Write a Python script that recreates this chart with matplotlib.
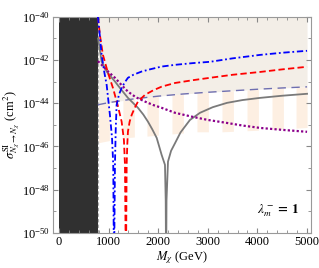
import matplotlib

matplotlib.use("Agg")
import matplotlib.pyplot as plt
import numpy as np
from matplotlib.ticker import FixedLocator, MultipleLocator, NullFormatter

plt.rcParams["font.family"] = ["Liberation Serif", "DejaVu Serif"]
plt.rcParams["mathtext.fontset"] = "stix"

# --- data (M in GeV, log10 sigma in cm^2) ---
blue_m = [786, 830, 861, 910, 962, 1028, 1070, 1095, 1110, 1129, 1145, 1163, 1210, 1264, 1330, 1391, 1500, 1667, 1850, 2070, 2339, 2700, 3044, 3500, 4052, 4500, 5000]
blue_l = [-40.0, -41.0, -41.76, -42.5, -43.15, -44.54, -45.6, -46.85, -52.0, -46.85, -45.2, -44.07, -43.6, -43.29, -43.02, -42.82, -42.68, -42.53, -42.42, -42.30, -42.22, -42.14, -42.08, -41.92, -41.76, -41.66, -41.57]

red_m = [786, 830, 887, 990, 1089, 1180, 1264, 1310, 1331, 1350, 1365, 1378, 1391, 1425, 1466, 1530, 1593, 1734, 1900, 2070, 2339, 2700, 3044, 3500, 4052, 4500, 5000]
red_l = [-40.0, -40.9, -41.76, -42.6, -43.29, -44.05, -44.85, -45.7, -46.85, -52.0, -46.85, -45.9, -45.31, -44.85, -44.54, -44.2, -43.92, -43.61, -43.40, -43.23, -43.06, -42.93, -42.82, -42.68, -42.55, -42.43, -42.31]

gray_m = [790, 861, 968, 1129, 1250, 1391, 1593, 1700, 1794, 1880, 1970, 2070, 2137, 2152, 2160, 2168, 2198, 2260, 2339, 2450, 2641, 2843, 3100, 3387, 3700, 4052, 4500, 5000]
gray_l = [-41.0, -42.07, -42.55, -42.99, -43.35, -43.75, -44.21, -44.52, -44.85, -45.2, -45.60, -46.39, -46.85, -48.5, -52.0, -48.5, -46.7, -46.2, -45.85, -45.35, -44.77, -44.44, -44.18, -43.98, -43.85, -43.75, -43.65, -43.56]

purple_m = [786, 861, 1000, 1129, 1260, 1391, 1550, 1734, 1900, 2070, 2339, 2701, 3000, 3387, 3700, 4052, 4500, 5000]
purple_l = [-42.05, -42.22, -42.55, -42.82, -43.15, -43.46, -43.72, -43.92, -44.08, -44.21, -44.44, -44.63, -44.77, -44.91, -45.03, -45.14, -45.23, -45.32]

limit_m = [786, 1000, 1500, 2000, 2500, 3000, 3500, 4000, 4500, 5000]
limit_l = [-44.07, -43.97, -43.80, -43.67, -43.57, -43.49, -43.42, -43.35, -43.29, -43.24]

floor_m = [786, 1290, 1774, 2278, 2782, 3286, 3790, 4294, 5000]
floor_l = [-45.83, -45.60, -45.52, -45.42, -45.32, -45.32, -45.27, -45.22, -45.12]

bar_starts = [786, 1290, 1774, 2278, 2782, 3286, 3790, 4294, 4778]
bar_width = 230

excluded_max = 786


def main():
    fig = plt.figure(figsize=(3.19, 2.68), dpi=100)
    ax = fig.add_axes([0.166, 0.131, 0.809, 0.806])

    # excluded low-mass region
    ax.axvspan(0, excluded_max, color="#303030", lw=0, zorder=1)
    ax.axvline(excluded_max, color="#aaaaaa", ls=(0, (3, 2)), lw=0.8, zorder=2)

    # excluded region above the limit
    xs = np.linspace(excluded_max, 5000, 200)
    top = 10 ** np.interp(xs, limit_m, limit_l)
    ax.fill_between(xs, top, 1e-40, color="#f3eee7", lw=0, zorder=1)

    # striped projected region
    for s in bar_starts:
        xb = np.linspace(s, min(s + bar_width, 5000), 20)
        ax.fill_between(
            xb,
            10 ** np.interp(xb, floor_m, floor_l),
            10 ** np.interp(xb, limit_m, limit_l),
            color="#fdefe2", lw=0, zorder=1,
        )

    ax.plot(limit_m, 10 ** np.array(limit_l), color="#6f6fb0", lw=1.0,
            ls=(0, (6, 4)), zorder=3)
    ax.plot(gray_m, 10 ** np.array(gray_l), color="#7a7a7a", lw=1.3, zorder=4)
    ax.plot(purple_m, 10 ** np.array(purple_l), color="#8b008b", lw=1.6,
            ls=(0, (1, 1)), zorder=4)
    ax.plot(red_m, 10 ** np.array(red_l), color="#ff0000", lw=1.3,
            ls=(0, (3.5, 1.8)), zorder=5)
    ax.plot(blue_m, 10 ** np.array(blue_l), color="#0000ff", lw=1.3,
            ls=(0, (3.5, 1.5, 1, 1.5)), zorder=6)

    ax.set_yscale("log")
    ax.set_xlim(-120, 5080)
    ax.set_ylim(1e-50, 1e-40)

    ax.xaxis.set_major_locator(MultipleLocator(1000))
    ax.xaxis.set_minor_locator(MultipleLocator(200))
    ax.yaxis.set_major_locator(FixedLocator([10.0 ** k for k in range(-50, -39, 2)]))
    ax.yaxis.set_minor_locator(FixedLocator([10.0 ** k for k in range(-49, -40, 2)]))
    ax.yaxis.set_minor_formatter(NullFormatter())
    ax.tick_params(which="both", direction="in", top=True, right=True,
                   color="#888888", labelsize=9, pad=2)
    ax.tick_params(which="major", length=3.5)
    ax.tick_params(which="minor", length=2)
    for sp in ax.spines.values():
        sp.set_color("#999999")
        sp.set_linewidth(0.8)

    ax.set_xlabel(r"$M_\chi$ (GeV)", fontsize=9, labelpad=1)
    ax.set_ylabel(r"$\sigma^{\rm SI}_{N_\chi \to N_\chi}$ (cm$^2$)", fontsize=9, labelpad=0)
    ax.text(3990, 10 ** -48.95, r"$\lambda_m^-\,\mathbf{=\,1}$", fontsize=9.5,
            va="center", ha="left")

    fig.savefig("out.png", dpi=100)
    plt.close(fig)


if __name__ == "__main__":
    main()
